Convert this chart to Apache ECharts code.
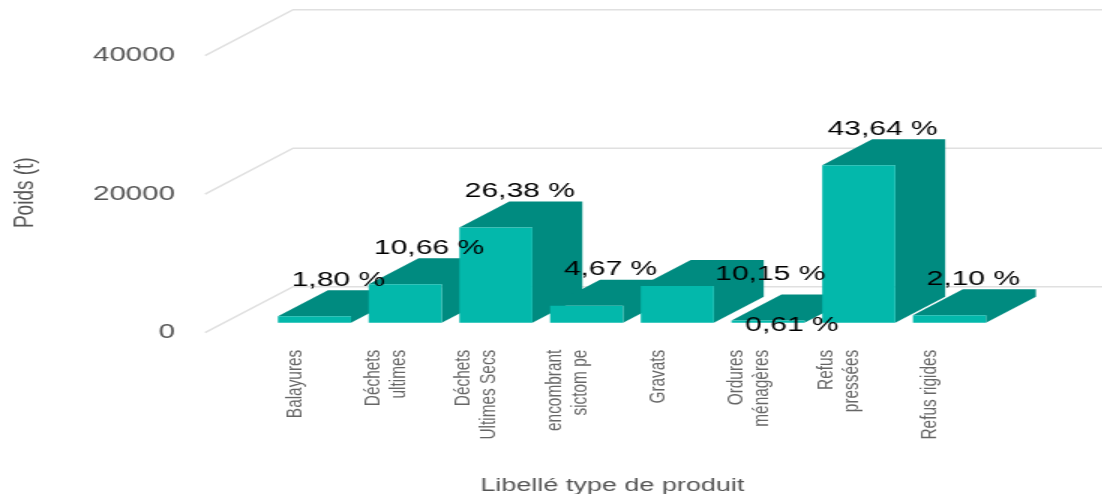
<!DOCTYPE html>
<html>
<head>
<meta charset="utf-8">
<title>Poids par type de produit</title>
<script src="https://cdn.jsdelivr.net/npm/echarts@6/dist/echarts.min.js"></script>
<style>
html, body { margin: 0; padding: 0; background: #fff; overflow: hidden; }
/* la reference est une image etiree en largeur : on dessine etroit puis on etire */
#chart { width: 735px; height: 494px; transform: scaleX(1.5); transform-origin: 0 0; }
</style>
</head>
<body>
<div id="chart"></div>
<script>
var categories = ['Balayures', 'Déchets\nultimes', 'Déchets\nUltimes Secs', 'encombrant\nsictom pe', 'Gravats', 'Ordures\nménagères', 'Refus\npressées', 'Refus rigides'];
var poids = [940, 5550, 13750, 2430, 5290, 320, 22740, 1090];
var pourcents = ['1,80 %', '10,66 %', '26,38 %', '4,67 %', '10,15 %', '0,61 %', '43,64 %', '2,10 %'];
var yTicks = [0, 20000, 40000];

// profondeur 3D
var barDepthX = 33.3, barDepthY = 26;
var barShiftX = 13, barShiftY = 10;
var wallDepthX = 58.7, wallDepthY = 46;
var wallStartX = -29.7;   // depart des lignes obliques par rapport a la grille
var frontColor = '#03b8ab', darkColor = '#008b80';

// deux etiquettes deplacees dans l'original
var labelMove = { 4: [46, 24], 5: [0, 41] };

var myChart = echarts.init(document.getElementById('chart'));

function renderWall(params, api) {
    var p = api.coord([0, api.value(0)]);
    var band = api.size([1, 0])[0];
    var x0 = p[0] - band / 2 + wallStartX;
    return {
        type: 'polyline',
        silent: true,
        shape: { points: [[x0, p[1]], [x0 + wallDepthX, p[1] - wallDepthY], [735, p[1] - wallDepthY]] },
        style: { fill: 'none', stroke: '#e0e0e0', lineWidth: 1.5 }
    };
}

function renderBar(params, api) {
    var i = api.value(0);
    var base = api.coord([i, 0]);
    var top = api.coord([i, api.value(1)]);
    var w = api.size([1, 0])[0] * 0.805;
    var x0 = base[0] + barShiftX - w / 2;
    var x1 = x0 + w;
    var y0 = base[1] - barShiftY;
    var y1 = top[1] - barShiftY;
    var move = labelMove[i] || [0, 0];
    return {
        type: 'group',
        children: [
            {
                // dessus et cote d'un seul tenant
                type: 'polygon',
                shape: { points: [
                    [x0, y1], [x0 + barDepthX, y1 - barDepthY], [x1 + barDepthX, y1 - barDepthY],
                    [x1 + barDepthX, y0 - barDepthY], [x1, y0], [x1, y1]
                ] },
                style: { fill: darkColor }
            },
            {
                type: 'rect',
                shape: { x: x0, y: y1, width: w, height: y0 - y1 },
                style: { fill: frontColor }
            },
            {
                type: 'text',
                z2: 100,
                style: {
                    x: (x0 + x1 + barDepthX) / 2 + move[0] - 0.7,
                    y: y1 - barDepthY + move[1],
                    text: pourcents[i],
                    fill: '#000',
                    font: '20px "Liberation Sans"',
                    textAlign: 'center',
                    textVerticalAlign: 'bottom'
                }
            }
        ]
    };
}

var option = {
    animation: false,
    textStyle: { fontFamily: 'Liberation Sans' },
    grid: { left: 166.4, width: 483.8, top: 55.7, height: 277, outerBoundsMode: 'none' },
    xAxis: {
        type: 'category',
        data: categories,
        name: 'Libellé type de produit',
        nameLocation: 'middle',
        nameGap: 144,
        nameTextStyle: { color: '#555', fontSize: 18 },
        axisLine: { show: false },
        axisTick: { show: false },
        axisLabel: { interval: 0, rotate: 90, margin: 17, color: '#666', fontSize: 15.4, lineHeight: 17, hideOverlap: false }
    },
    yAxis: {
        type: 'value',
        min: 0,
        max: 40000,
        interval: 20000,
        name: 'Poids (t)',
        nameLocation: 'middle',
        nameRotate: 90,
        nameGap: 140.5,
        nameTextStyle: { color: '#555', fontSize: 19, padding: [0, 0, 0, 3] },
        axisLine: { show: false },
        axisTick: { show: false },
        splitLine: { show: false },
        axisLabel: { margin: 49.7, color: '#555', fontSize: 19.7, padding: [0, 0, 4, 0], formatter: function (v) { return String(v); } }
    },
    series: [
        {
            type: 'custom',
            silent: true,
            renderItem: renderWall,
            encode: { y: 0 },
            data: yTicks.map(function (v) { return [v]; }),
            coordinateSystem: 'cartesian2d',
            z: 1
        },
        {
            type: 'custom',
            renderItem: renderBar,
            encode: { x: 0, y: 1 },
            data: poids.map(function (v, i) { return [i, v]; }),
            z: 2
        }
    ]
};
myChart.setOption(option);
</script>
</body>
</html>
